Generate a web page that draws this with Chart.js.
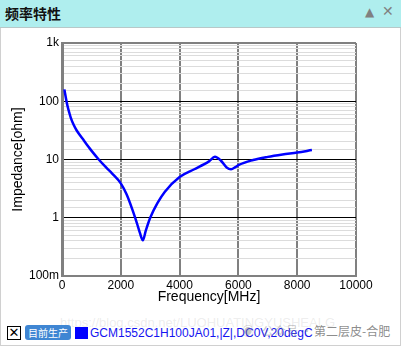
<!DOCTYPE html>
<html>
<head>
<meta charset="utf-8">
<script src="https://cdn.jsdelivr.net/npm/chart.js@4"></script>
<style>
  html, body { margin:0; padding:0; background:#fff; }
  body { width:401px; height:346px; position:relative; overflow:hidden; font-family:"Liberation Sans", Arial, sans-serif; }
  #frame { position:absolute; left:0; top:0; width:399px; height:344px; border:1px solid #d0d0d0; }
  #titlebar { position:absolute; left:0; top:0; width:401px; height:27px; background:#afeeee; border-bottom:1px solid #b8c8c8; }
  #title { position:absolute; left:5px; top:4px; font-family:"Noto Sans CJK SC", sans-serif; font-weight:bold; font-size:14px; color:#111; line-height:18px; }
  #up { position:absolute; left:365px; top:5px; font-size:12px; color:#808080; font-family:"DejaVu Sans", sans-serif; }
  #close { position:absolute; left:382px; top:3px; font-size:14px; font-weight:bold; color:#808080; font-family:"DejaVu Sans", sans-serif; }
  #cv { position:absolute; left:0; top:30px; }
  #legend { position:absolute; left:0; top:325px; height:16px; width:401px; }
  #chk { position:absolute; left:7px; top:1px; width:12px; height:12px; border:1px solid #000; background:#fff; font-size:13px; line-height:12px; text-align:center; font-family:"DejaVu Sans", sans-serif; }
  #btn { position:absolute; left:25px; top:0px; width:46px; height:15px; background:#3f86d3; border-radius:3px; color:#fff; font-family:"Noto Sans CJK SC", sans-serif; font-size:10px; line-height:15px; text-align:center; }
  #sw { position:absolute; left:75px; top:2px; width:13px; height:12px; background:#0000ff; }
  #lt { position:absolute; left:90px; top:0px; font-size:12px; line-height:16px; color:#1414f0; white-space:nowrap; }
  #wm1 { position:absolute; left:60px; top:315px; font-size:13px; color:rgba(150,150,150,0.18); white-space:nowrap; }
  .wm { position:absolute; top:323px; font-size:12px; font-family:"Noto Sans CJK SC", sans-serif; white-space:nowrap; line-height:16px; }
</style>
</head>
<body>
<div id="frame"></div>
<div id="titlebar"><div id="title">频率特性</div><div id="up">▲</div><div id="close">✕</div></div>
<canvas id="cv" width="401" height="280"></canvas>
<div id="wm1">https://blog.csdn.net/LUOHUATINGYUSHEALG</div>
<div id="legend">
  <div id="chk">✕</div>
  <div id="btn">目前生产</div>
  <div id="sw"></div>
  <div id="lt">GCM1552C1H100JA01,|Z|,DC0V,20degC</div>
</div>
<div class="wm" style="left:242px;color:rgba(130,130,130,0.45);">◉</div>
<div class="wm" style="left:262px;color:rgba(130,130,130,0.45);">公众号 ·</div>
<div class="wm" style="left:314px;color:rgba(110,110,110,0.8);">第二层皮-合肥</div>
<script>
// Data
const freqMHz   = [80, 150, 200, 250, 300, 400, 500, 750, 900, 1000, 1235, 1500, 1700, 2000, 2200, 2400, 2550, 2650, 2750, 2850, 3000, 3250, 3500, 4000, 4500, 5000, 5200, 5400, 5600, 5750, 5900, 6000, 6500, 7000, 7500, 8000, 8500];
const impedance = [160, 102, 78, 63, 52, 39, 31.5, 21, 16.5, 14.2, 10.2, 7.3, 5.8, 3.9, 2.5, 1.35, 0.8, 0.55, 0.41, 0.6, 1.0, 1.8, 2.8, 5.0, 6.8, 9.3, 11.1, 9.6, 7.3, 6.8, 7.4, 8.0, 9.8, 11.1, 12.2, 13.2, 14.5];
const xTicks = [0, 2000, 4000, 6000, 8000, 10000];
const yTickValues = [0.1, 1, 10, 100, 1000];
const yTickLabels = ["100m", "1", "10", "100", "1k"];
const seriesLabel = "GCM1552C1H100JA01,|Z|,DC0V,20degC";

const points = freqMHz.map((f, i) => ({ x: f, y: impedance[i] }));
const isDecade = v => yTickValues.some(d => Math.abs(v - d) / d < 1e-6);

new Chart(document.getElementById('cv'), {
  type: 'line',
  data: { datasets: [{
    label: seriesLabel,
    data: points,
    borderColor: '#0000ff',
    borderWidth: 2.5,
    pointRadius: 0,
    cubicInterpolationMode: 'monotone',
    fill: false
  }]},
  options: {
    responsive: false,
    animation: false,
    events: [],
    layout: { padding: { left: 0, right: 45, top: 13, bottom: 0 } },
    plugins: { legend: { display: false }, tooltip: { enabled: false } },
    scales: {
      x: {
        type: 'linear', min: 0, max: 10000,
        afterFit: s => { s.height = 34; },
        afterBuildTicks: s => { s.ticks = xTicks.map(v => ({ value: v })); },
        ticks: { padding: 2, color: '#000', font: { family: 'Liberation Sans', size: 12 }, maxRotation: 0,
                 callback: v => String(v) },
        grid: { drawTicks: false, color: '#808080', lineWidth: 2 },
        border: { color: '#808080', width: 2 },
        title: { display: true, text: 'Frequency[MHz]', color: '#000', font: { family: 'Liberation Sans', size: 14 }, padding: { top: 0, bottom: 4 } }
      },
      y: {
        type: 'logarithmic', min: 0.1, max: 1000,
        afterFit: s => { s.width = 62; },
        ticks: {
          padding: 3, color: '#000', font: { family: 'Liberation Sans', size: 12 },
          autoSkip: false,
          callback: (v) => { const i = yTickValues.findIndex(d => Math.abs(v - d) / d < 1e-6); return i >= 0 ? yTickLabels[i] : ''; }
        },
        grid: {
          drawTicks: false,
          color: ctx => {
            const v = ctx.tick && ctx.tick.value;
            if (v === undefined) return '#dcdcdc';
            if (Math.abs(v - 1000) < 1e-6 || Math.abs(v - 0.1) < 1e-9) return '#808080';
            return isDecade(v) ? '#000000' : '#dcdcdc';
          },
          lineWidth: ctx => {
            const v = ctx.tick && ctx.tick.value;
            if (v !== undefined && (Math.abs(v - 1000) < 1e-6)) return 2;
            return 1;
          }
        },
        border: { color: '#808080', width: 3 },
        title: { display: true, text: 'Impedance[ohm]', color: '#000', font: { family: 'Liberation Sans', size: 14 }, padding: { top: 10, bottom: 0 } }
      }
    }
  }
});
</script>
</body>
</html>
